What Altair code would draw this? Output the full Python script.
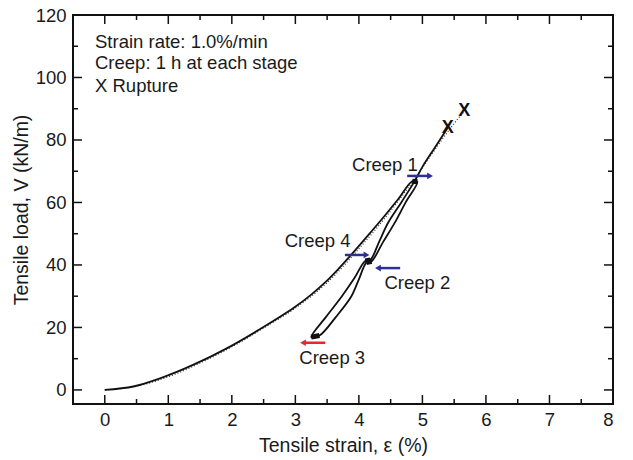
import altair as alt
import pandas as pd

# ---- data ----
solid_x = [0, 0.45, 0.87, 1.39, 1.92, 2.44, 2.97, 3.25, 3.49, 3.70, 3.86, 4.12, 4.40, 4.62, 4.84, 4.92,
           4.74, 4.57, 4.38, 4.20, 4.12, 4.00, 3.88, 3.64, 3.38, 3.25, 3.48, 3.73, 3.93, 4.10, 4.18,
           4.32, 4.46, 4.67, 4.88, 5.0, 5.2, 5.4]
solid_y = [0, 1.1, 3.7, 8.0, 13.3, 19.4, 26.2, 30.5, 34.8, 39.2, 42.8, 48.9, 55.6, 61.1, 66.8, 66.6,
           60.2, 53.7, 47.3, 41.2, 40.8, 35.4, 29.9, 23.4, 17.4, 16.9, 23.3, 29.9, 35.8, 41.3, 41.6,
           47.5, 53.5, 60.1, 66.9, 71.4, 77.7, 84.0]

dot_x = [0, 0.5, 1.0, 1.5, 2.0, 2.5, 3.0, 3.5, 4.0, 4.5, 4.9, 5.2, 5.45, 5.65]
dot_y = [0, 1.2, 4.2, 8.6, 13.8, 19.8, 26.2, 34.3, 45.2, 57.3, 68.2, 77.0, 84.0, 89.0]

creep_x1 = [4.84, 4.20, 3.38, 4.10]
creep_x2 = [4.92, 4.12, 3.25, 4.18]
creep_y1 = [66.8, 41.2, 17.4, 41.3]
creep_y2 = [66.6, 40.8, 16.9, 41.6]

rupture_x = [5.40, 5.66]
rupture_y = [83.8, 89.2]

arrow_x1 = [4.76, 4.65, 3.47, 3.78]
arrow_x2 = [5.12, 4.30, 3.12, 4.12]
arrow_y = [68.5, 39.0, 15.1, 43.2]
arrow_dir = ["right", "left", "left", "right"]
arrow_col = ["blue", "blue", "red", "blue"]

label_text = ["Creep 1", "Creep 2", "Creep 3", "Creep 4"]
label_x = [4.41, 4.92, 3.58, 3.35]
label_y = [72.0, 34.1, 10.1, 47.8]

note_lines = ["Strain rate: 1.0%/min", "Creep: 1 h at each stage", "X Rupture"]
note_y = [111.4, 104.6, 97.3]

x_major = [0, 1, 2, 3, 4, 5, 6, 7, 8]
x_minor = [0.5, 1.5, 2.5, 3.5, 4.5, 5.5, 6.5, 7.5]
y_major = [0, 20, 40, 60, 80, 100, 120]
y_minor = [10, 30, 50, 70, 90, 110]

# ---- tables ----
solid = pd.DataFrame({"x": solid_x, "y": solid_y, "o": range(len(solid_x))})
dotted = pd.DataFrame({"x": dot_x, "y": dot_y, "o": range(len(dot_x))})
creep = pd.DataFrame({"x": creep_x1, "x2": creep_x2, "y": creep_y1, "y2": creep_y2})
rupt = pd.DataFrame({"x": rupture_x, "y": rupture_y})
arrows = pd.DataFrame({"x": arrow_x1, "x2": arrow_x2, "y": arrow_y,
                       "dir": arrow_dir, "col": arrow_col})
labels = pd.DataFrame({"t": label_text, "x": label_x, "y": label_y})
notes = pd.DataFrame({"t": note_lines, "y": note_y})

W, H = 540, 389
FONT = "Liberation Sans"
FS = 18.5
TFS = 19.5
TXT = "#1a1a1a"
XD = [-0.5, 8]
YD = [-4.5, 120]

xs = alt.Scale(domain=XD, nice=False, zero=False)
ys = alt.Scale(domain=YD, nice=False, zero=False)

xax = alt.Axis(values=x_major, format="d", domain=False, ticks=False, grid=False,
               labelFont=FONT, labelFontSize=FS, labelColor=TXT, labelPadding=6,
               title="Tensile strain, ε (%)", titleFont=FONT, titleFontSize=TFS,
               titleFontWeight="normal", titleColor=TXT, titlePadding=8)
yax = alt.Axis(values=y_major, format="d", domain=False, ticks=False, grid=False,
               labelFont=FONT, labelFontSize=FS, labelColor=TXT, labelPadding=7,
               title="Tensile load, V (kN/m)", titleFont=FONT, titleFontSize=TFS,
               titleFontWeight="normal", titleColor=TXT, titlePadding=4)

dots = alt.Chart(dotted).mark_line(color="#333", strokeWidth=1.2, strokeDash=[1, 2],
                                   interpolate="monotone").encode(
    x=alt.X("x:Q", scale=xs, axis=xax), y=alt.Y("y:Q", scale=ys, axis=yax), order="o:Q")

line = alt.Chart(solid).mark_line(color="#111", strokeWidth=1.8,
                                  interpolate="catmull-rom").encode(
    x=alt.X("x:Q", scale=xs), y=alt.Y("y:Q", scale=ys), order="o:Q")

creep_seg = alt.Chart(creep).mark_rule(color="#111", strokeWidth=5).encode(
    x=alt.X("x:Q", scale=xs), x2="x2", y=alt.Y("y:Q", scale=ys), y2="y2")

rupt_marks = alt.Chart(rupt).mark_text(text="X", font=FONT, fontSize=18, fontWeight="bold",
                                       color="#111").encode(
    x=alt.X("x:Q", scale=xs), y=alt.Y("y:Q", scale=ys))

color_scale = alt.Scale(domain=["blue", "red"], range=["#2e3192", "#e8262b"])
shaft = alt.Chart(arrows).mark_rule(strokeWidth=2.5).encode(
    x=alt.X("x:Q", scale=xs), x2="x2", y=alt.Y("y:Q", scale=ys),
    color=alt.Color("col:N", scale=color_scale, legend=None))
head = alt.Chart(arrows).mark_point(filled=True, size=45, opacity=1).encode(
    x=alt.X("x2:Q", scale=xs), y=alt.Y("y:Q", scale=ys),
    shape=alt.Shape("dir:N", scale=alt.Scale(domain=["right", "left"],
                                             range=["triangle-right", "triangle-left"]),
                    legend=None),
    color=alt.Color("col:N", scale=color_scale, legend=None))

lab = alt.Chart(labels).mark_text(font=FONT, fontSize=FS, color=TXT).encode(
    x=alt.X("x:Q", scale=xs), y=alt.Y("y:Q", scale=ys), text="t:N")

note = alt.Chart(notes).mark_text(font=FONT, fontSize=FS, color=TXT, align="left").encode(
    x=alt.value(22), y=alt.Y("y:Q", scale=ys), text="t:N")

tick_style = dict(color="#111", strokeWidth=1.5)
xmaj = pd.DataFrame({"v": x_major})
xmin = pd.DataFrame({"v": x_minor})
ymaj = pd.DataFrame({"v": y_major})
ymin = pd.DataFrame({"v": y_minor})

def xticks(df, ln):
    b = alt.Chart(df).mark_rule(**tick_style).encode(
        x=alt.X("v:Q", scale=xs), y=alt.value(H), y2=alt.value(H - ln))
    t = alt.Chart(df).mark_rule(**tick_style).encode(
        x=alt.X("v:Q", scale=xs), y=alt.value(0), y2=alt.value(ln))
    return b + t

def yticks(df, ln):
    l = alt.Chart(df).mark_rule(**tick_style).encode(
        y=alt.Y("v:Q", scale=ys), x=alt.value(0), x2=alt.value(ln))
    r = alt.Chart(df).mark_rule(**tick_style).encode(
        y=alt.Y("v:Q", scale=ys), x=alt.value(W), x2=alt.value(W - ln))
    return l + r

chart = alt.layer(
    dots, line, creep_seg, rupt_marks, shaft, head, lab, note,
    xticks(xmaj, 9), xticks(xmin, 5), yticks(ymaj, 9), yticks(ymin, 5)
).properties(
    width=W, height=H,
    autosize=alt.AutoSizeParams(type="none"),
    padding={"left": 73, "top": 15, "right": 20, "bottom": 56},
    background="white",
).configure_view(stroke="#111", strokeWidth=2)

chart.save("out.html", embed_options={"renderer": "svg", "actions": False})
